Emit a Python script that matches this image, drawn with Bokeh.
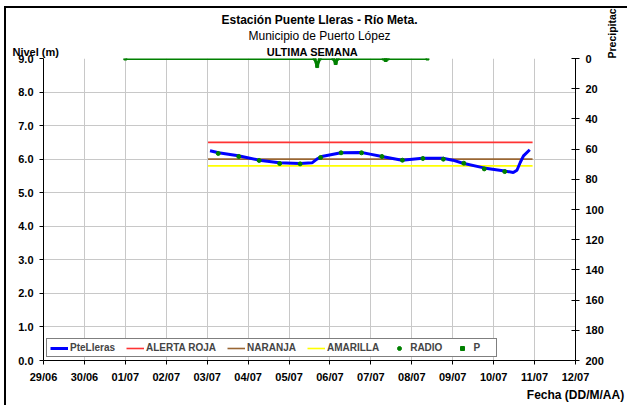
import math
import pandas as pd
from bokeh.plotting import figure
from bokeh.models import (Range1d, LinearAxis, Legend, LegendItem, Title,
                          FixedTicker, PrintfTickFormatter)
from bokeh.embed import file_html
from bokeh.resources import INLINE

# ---------------- data ----------------
YEAR = "2012"
START = "29/06 00:00"
tick_labels = ["29/06", "30/06", "01/07", "02/07", "03/07", "04/07", "05/07",
               "06/07", "07/07", "08/07", "09/07", "10/07", "11/07", "12/07"]
level_ticks = [0, 1, 2, 3, 4, 5, 6, 7, 8, 9]
precip_ticks = [0, 20, 40, 60, 80, 100, 120, 140, 160, 180, 200]
LEVEL_MAX = 9
PRECIP_MAX = 200

pte_time = ["03/07 01:40", "03/07 06:40", "03/07 18:15", "04/07 06:30", "04/07 18:15",
            "05/07 06:30", "05/07 13:30", "05/07 16:20", "05/07 19:10", "06/07 06:30",
            "06/07 18:30", "06/07 23:30", "07/07 06:30", "07/07 18:15", "08/07 06:15",
            "08/07 18:15", "09/07 00:00", "09/07 06:00", "09/07 18:15", "10/07 06:30",
            "10/07 11:30", "10/07 13:40", "10/07 15:35", "10/07 17:30", "10/07 21:10"]
pte_level = [6.25, 6.19, 6.10, 5.97, 5.89, 5.87, 5.89, 6.00, 6.08, 6.19,
             6.20, 6.15, 6.08, 5.97, 6.03, 6.03, 5.97, 5.88, 5.74, 5.65,
             5.60, 5.67, 5.90, 6.10, 6.28]

radio_time = ["03/07 06:30", "03/07 18:30", "04/07 06:30", "04/07 18:30", "05/07 06:30",
              "05/07 18:30", "06/07 06:30", "06/07 18:30", "07/07 06:30", "07/07 18:30",
              "08/07 06:30", "08/07 18:30", "09/07 06:30", "09/07 18:30", "10/07 06:30"]
radio_level = [6.17, 6.08, 5.96, 5.87, 5.86, 6.05, 6.19, 6.19, 6.08, 5.97,
               6.02, 6.00, 5.88, 5.71, 5.63]

alert_time = ["03/07 00:30", "10/07 22:50"]
alerta_roja = 6.5
naranja = 6.0
amarilla = 5.8

p_time = ["01/07 00:00", "05/07 15:00", "05/07 16:30", "05/07 18:00", "06/07 02:00",
          "06/07 03:20", "06/07 04:30", "07/07 07:30", "07/07 08:40", "07/07 09:50",
          "08/07 09:10"]
p_mm = [0, 0, 5, 0, 0, 3, 0, 0, 1, 0, 0]


def days(labels):
    t0 = pd.to_datetime(f"{START}/{YEAR}", format="%d/%m %H:%M/%Y")
    out = []
    for s in labels:
        d, hm = s.split(" ")
        t = pd.to_datetime(f"{d}/{YEAR} {hm}", format="%d/%m/%Y %H:%M")
        out.append((t - t0) / pd.Timedelta(days=1))
    return out


FONT = "Liberation Sans"

p = figure(width=623, height=399, output_backend="svg", toolbar_location=None,
           x_range=Range1d(0, len(tick_labels) - 1), y_range=Range1d(0, LEVEL_MAX),
           min_border_left=37, min_border_right=54, min_border_top=50,
           min_border_bottom=47)
p.styles = {"margin-left": "4px", "margin-top": "6px",
            "border-left": "2px solid black", "border-top": "2px solid black"}
p.outline_line_color = None
p.background_fill_color = "white"

# right axis: precipitation scale (0 at top, 200 at bottom)
p.extra_y_ranges = {"precip": Range1d(PRECIP_MAX, 0)}
raxis = LinearAxis(y_range_name="precip", ticker=FixedTicker(ticks=precip_ticks))
raxis.axis_label = "Precipitacion (mm)"
raxis.axis_label_standoff = 5
raxis.axis_label_text_font = FONT
raxis.axis_label_text_font_style = "bold"
raxis.axis_label_text_font_size = "10.5px"
raxis.axis_label_text_color = "black"
if "axis_label_orientation" in raxis.properties():
    raxis.axis_label_orientation = math.pi / 2
if "axis_label_align" in raxis.properties():
    raxis.axis_label_align = "start"
p.add_layout(raxis, "right")

xaxis = p.xaxis[0]
yaxis = p.yaxis[0]
xaxis.ticker = FixedTicker(ticks=list(range(len(tick_labels))))
xaxis.major_label_overrides = {i: t for i, t in enumerate(tick_labels)}
xaxis.axis_label = "Fecha (DD/M/AA)"
xaxis.axis_label_standoff = 2
xaxis.axis_label_text_font = FONT
xaxis.axis_label_text_font_style = "bold"
xaxis.axis_label_text_font_size = "12px"
xaxis.axis_label_text_color = "black"
if "axis_label_align" in xaxis.properties():
    xaxis.axis_label_align = "end"
yaxis.ticker = FixedTicker(ticks=level_ticks)
yaxis.formatter = PrintfTickFormatter(format="%.1f")

for ax in [xaxis, yaxis, raxis]:
    ax.axis_line_color = "black"
    ax.axis_line_width = 1
    ax.major_tick_line_color = "black"
    ax.minor_tick_line_color = None
    ax.major_tick_out = 4
    ax.major_tick_in = 0
    ax.major_label_text_font = FONT
    ax.major_label_text_font_style = "bold"
    ax.major_label_text_font_size = "11px"
    ax.major_label_text_color = "black"
    ax.major_label_standoff = 5
raxis.major_tick_in = 4
raxis.major_label_standoff = 6
yaxis.major_label_standoff = 6
xaxis.major_label_standoff = 6

p.xgrid.ticker = FixedTicker(ticks=list(range(len(tick_labels))))
p.ygrid.ticker = FixedTicker(ticks=level_ticks)
for g in [p.xgrid[0], p.ygrid[0]]:
    g.grid_line_color = "#c8c8c8"
    g.grid_line_width = 1

ax_t = days(alert_time)
r_roja = p.line(ax_t, [alerta_roja] * 2, line_color="#ff3333", line_width=1.6)
r_nar = p.line(ax_t, [naranja] * 2, line_color="#996633", line_width=1.6)
r_ama = p.line(ax_t, [amarilla] * 2, line_color="#ffff00", line_width=1.6)
r_pte = p.line(days(pte_time), pte_level, line_color="#0000ff", line_width=3)
r_radio = p.scatter(days(radio_time), radio_level, marker="circle", size=4,
                    fill_color="#008000", line_color="#008000")
p.line(days(p_time), p_mm, y_range_name="precip", line_color="#008000", line_width=3)
r_p = p.scatter(days(p_time), p_mm, marker="square", size=3, fill_color="#008000",
                line_color="#008000", y_range_name="precip")

legend = Legend(items=[
    LegendItem(label="PteLleras", renderers=[r_pte]),
    LegendItem(label="ALERTA ROJA", renderers=[r_roja]),
    LegendItem(label="NARANJA", renderers=[r_nar]),
    LegendItem(label="AMARILLA", renderers=[r_ama]),
    LegendItem(label="RADIO", renderers=[r_radio]),
    LegendItem(label="P", renderers=[r_p]),
], orientation="horizontal", location=(3, 3))
legend.border_line_color = "black"
legend.border_line_width = 1
legend.background_fill_alpha = 1
legend.label_text_font = FONT
legend.label_text_font_style = "bold"
legend.label_text_font_size = "10px"
legend.glyph_width = 18
legend.glyph_height = 10
legend.label_standoff = 2
legend.spacing = 11
legend.padding = 3
legend.margin = 0
legend.label_height = 10
p.add_layout(legend)

NBSP = "\u00a0"
for text, style, size, off, so in [
        ("Nivel (m)" + NBSP * 68 + "ULTIMA SEMANA", "bold", "11px", -31, 2),
        ("Municipio de Puerto López", "normal", "12px", 205, 0),
        ("Estación Puente Lleras - Río Meta.", "bold", "12px", 178, 0)]:
    p.add_layout(Title(text=text, align="left", offset=off, standoff=so,
                       text_font=FONT, text_font_style=style, text_font_size=size,
                       text_color="black"), "above")

open("out.html", "w").write(file_html(p, INLINE))
